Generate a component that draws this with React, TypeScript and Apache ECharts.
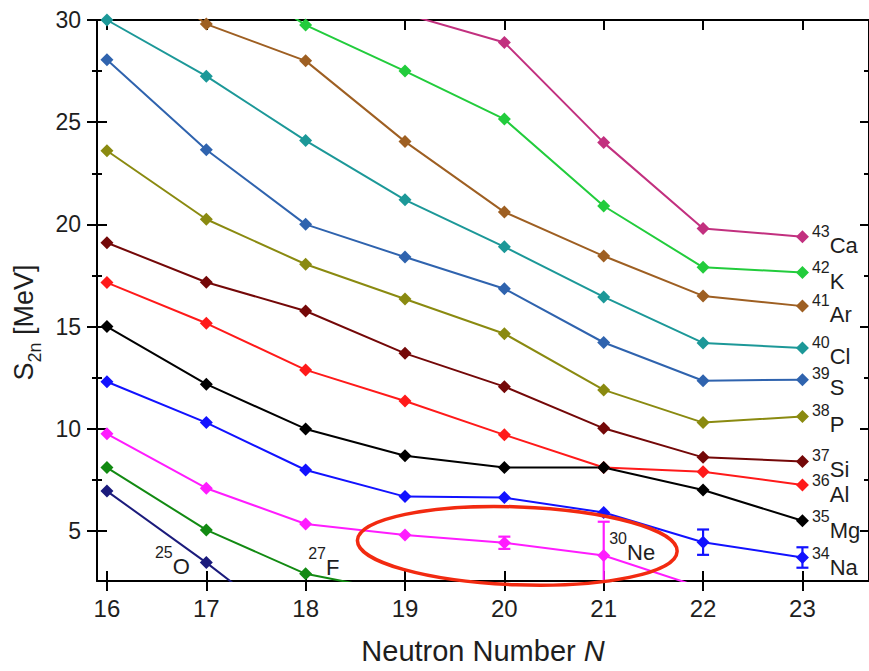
import React, { useEffect, useRef } from "react";
import * as echarts from "echarts";

// Neutron numbers
const N = [16, 17, 18, 19, 20, 21, 22, 23];
const yMajor = [5, 10, 15, 20, 25, 30];
const yMinor = [7.5, 12.5, 17.5, 22.5, 27.5];

// S2n values [MeV] by isotopic chain, index 0 = N 16
const ca = [36.5, 34.5, 32.5, 30.3, 28.9, 24.0, 19.8, 19.4];
const k = [35.5, 32.9, 29.75, 27.5, 25.15, 20.9, 17.9, 17.65];
const ar = [33.5, 29.8, 28.0, 24.05, 20.6, 18.45, 16.5, 16.0];
const cl = [30.0, 27.25, 24.1, 21.2, 18.9, 16.45, 14.2, 13.95];
const s = [28.05, 23.65, 20.0, 18.4, 16.85, 14.22, 12.35, 12.4];
const p = [23.6, 20.25, 18.05, 16.35, 14.65, 11.9, 10.3, 10.6];
const si = [19.1, 17.17, 15.76, 13.69, 12.06, 10.02, 8.6, 8.4];
const al = [17.15, 15.16, 12.88, 11.36, 9.7, 8.1, 7.9, 7.25];
const mg = [15.0, 12.18, 9.99, 8.68, 8.1, 8.1, 7.0, 5.5];
const na = [12.3, 10.3, 7.98, 6.68, 6.63, 5.9, 4.45, 3.7];
const ne = [9.75, 7.09, 5.34, 4.8, 4.42, 3.8, 2.2];
const f = [8.1, 5.05, 2.9, 1.95];
const o = [6.95, 3.45, -0.3];

// error bars
const naErrN = [22, 23];
const naErr = [0.62, 0.5];
const neErrN = [20, 21];
const neErr = [0.3, 1.65];

const X_MIN = 15.9;
const X_MAX = 23.67;
const Y_MIN = 2.55;
const Y_MAX = 30;

const FONT = "'Liberation Sans', Arial, sans-serif";
const TXT = "#1e1e1e";

type Chain = {
  name: string;
  mass: string;
  el: string;
  values: number[];
  color: string;
  labelIdx: number;
  pos: string;
  offset: number[];
  distance: number;
};

const chains: Chain[] = [
  { name: "Ca", mass: "43", el: "Ca", values: ca, color: "#C2307F", labelIdx: 7, pos: "right", offset: [0, 3.5], distance: 3 },
  { name: "K", mass: "42", el: "K", values: k, color: "#22CC3C", labelIdx: 7, pos: "right", offset: [0, 4], distance: 3 },
  { name: "Ar", mass: "41", el: "Ar", values: ar, color: "#9E5F22", labelIdx: 7, pos: "right", offset: [0, 3], distance: 3 },
  { name: "Cl", mass: "40", el: "Cl", values: cl, color: "#1C9898", labelIdx: 7, pos: "right", offset: [0, 2.5], distance: 3 },
  { name: "S", mass: "39", el: "S", values: s, color: "#2F63AE", labelIdx: 7, pos: "right", offset: [0, 2.5], distance: 3 },
  { name: "P", mass: "38", el: "P", values: p, color: "#8A8A10", labelIdx: 7, pos: "right", offset: [0, 3], distance: 3 },
  { name: "Si", mass: "37", el: "Si", values: si, color: "#740808", labelIdx: 7, pos: "right", offset: [0, 3], distance: 3 },
  { name: "Al", mass: "36", el: "Al", values: al, color: "#FF1A1A", labelIdx: 7, pos: "right", offset: [0, 4], distance: 3 },
  { name: "Mg", mass: "35", el: "Mg", values: mg, color: "#000000", labelIdx: 7, pos: "right", offset: [0, 4.5], distance: 3 },
  { name: "Na", mass: "34", el: "Na", values: na, color: "#1212FF", labelIdx: 7, pos: "right", offset: [0, 5], distance: 3 },
  { name: "Ne", mass: "30", el: "Ne", values: ne, color: "#FF1CFF", labelIdx: 5, pos: "right", offset: [0, -8], distance: -1 },
  { name: "F", mass: "27", el: "F", values: f, color: "#128A12", labelIdx: 2, pos: "right", offset: [-4, -12], distance: 0 },
  { name: "O", mass: "25", el: "O", values: o, color: "#1B1B7C", labelIdx: 1, pos: "left", offset: [0, -2], distance: 10 },
];

const labelRich = {
  z: { fontSize: 1, lineHeight: 33, width: 0 },
  s: { fontSize: 16, lineHeight: 16, verticalAlign: "top", fontFamily: FONT, color: TXT },
  e: { fontSize: 22, lineHeight: 24, verticalAlign: "bottom", fontFamily: FONT, color: TXT },
};

export default function App() {
  const ref = useRef<HTMLDivElement>(null);

  useEffect(() => {
    if (!ref.current) return;
    const chart = echarts.init(ref.current, undefined, { renderer: "svg" });

    const lineSeries = chains.map((c) => ({
      type: "line",
      name: c.name,
      xAxisIndex: 0,
      yAxisIndex: 0,
      data: c.values.map((v, i) => [N[i], v]),
      symbol: "diamond",
      symbolSize: 13,
      showAllSymbol: true,
      clip: true,
      color: c.color,
      itemStyle: { color: c.color },
      lineStyle: { color: c.color, width: 2 },
      label: {
        show: true,
        position: c.pos,
        distance: c.distance,
        offset: c.offset,
        formatter: (prm: any) =>
          prm.dataIndex === c.labelIdx ? `{z| }{s|${c.mass}}{e|${c.el}}` : "",
        rich: labelRich,
      },
      emphasis: { disabled: true },
      z: 3,
    }));

    const errRender = (color: string) => (params: any, api: any) => {
      const x = api.value(0);
      const y = api.value(1);
      const e = api.value(2);
      const loV = y - e;
      const clipped = loV < Y_MIN;
      const top = api.coord([x, y + e]);
      const bot = api.coord([x, clipped ? Y_MIN : loV]);
      const hw = 6;
      const st = { stroke: color, lineWidth: 2.2 };
      const children: any[] = [
        { type: "line", shape: { x1: top[0], y1: top[1], x2: bot[0], y2: bot[1] }, style: st },
        { type: "line", shape: { x1: top[0] - hw, y1: top[1], x2: top[0] + hw, y2: top[1] }, style: st },
      ];
      if (!clipped) {
        children.push({ type: "line", shape: { x1: bot[0] - hw, y1: bot[1], x2: bot[0] + hw, y2: bot[1] }, style: st });
      }
      return { type: "group", children };
    };

    const naErrData = naErrN.map((n, i) => [n, na[N.indexOf(n)], naErr[i]]);
    const neErrData = neErrN.map((n, i) => [n, ne[N.indexOf(n)], neErr[i]]);

    const errSeries = [
      {
        type: "custom",
        xAxisIndex: 0,
        yAxisIndex: 0,
        data: naErrData,
        encode: { x: 0, y: 1 },
        renderItem: errRender("#1212FF"),
        z: 4,
      },
      {
        type: "custom",
        xAxisIndex: 0,
        yAxisIndex: 0,
        data: neErrData,
        encode: { x: 0, y: 1 },
        renderItem: errRender("#FF1CFF"),
        z: 4,
      },
    ];

    const axLine = { show: true, lineStyle: { color: "#000", width: 2 } };
    const tickStyle = { color: "#000", width: 2 };

    const xBase = {
      type: "value",
      min: X_MIN,
      max: X_MAX,
      splitLine: { show: false },
      axisLine: axLine,
    };
    const yBase = {
      type: "value",
      min: Y_MIN,
      max: Y_MAX,
      splitLine: { show: false },
      axisLine: axLine,
    };

    const option: any = {
      animation: false,
      backgroundColor: "#ffffff",
      grid: { left: 97, top: 20, width: 773, height: 561, containLabel: false },
      xAxis: [
        {
          ...xBase,
          position: "bottom",
          axisTick: { show: true, inside: false, length: 10, customValues: N, lineStyle: tickStyle },
          axisLabel: { show: true, customValues: N, fontSize: 24, margin: 15, color: TXT, fontFamily: FONT },
          name: "{t|Neutron Number }{i|N}",
          nameLocation: "middle",
          nameGap: 55,
          nameTextStyle: {
            rich: {
              t: { fontSize: 29, fontFamily: FONT, color: TXT },
              i: { fontSize: 29, fontFamily: FONT, color: TXT, fontStyle: "italic" },
            },
          },
        },
        {
          ...xBase,
          position: "bottom",
          axisLine: { show: false },
          axisTick: { show: true, inside: true, length: 10, customValues: N, lineStyle: tickStyle },
          axisLabel: { show: false },
        },
        {
          ...xBase,
          position: "top",
          axisTick: { show: true, inside: true, length: 10, customValues: N, lineStyle: tickStyle },
          axisLabel: { show: false },
        },
      ],
      yAxis: [
        {
          ...yBase,
          position: "left",
          axisTick: { show: true, inside: false, length: 10, customValues: yMajor, lineStyle: tickStyle },
          axisLabel: { show: true, customValues: yMajor, fontSize: 23, margin: 16, color: TXT, fontFamily: FONT },
          name: "{z| }{m|S}{b|2n}{m| [MeV]}",
          nameLocation: "middle",
          nameRotate: 90,
          nameGap: 53,
          nameTextStyle: {
            padding: [0, 44, 0, 0],
            rich: {
              z: { fontSize: 1, lineHeight: 34, width: 0 },
              m: { fontSize: 27, lineHeight: 27, verticalAlign: "top", fontFamily: FONT, color: TXT },
              b: { fontSize: 18, lineHeight: 18, verticalAlign: "bottom", fontFamily: FONT, color: TXT },
            },
          },
        },
        {
          ...yBase,
          position: "left",
          axisLine: { show: false },
          axisTick: { show: true, inside: true, length: 10, customValues: yMajor, lineStyle: tickStyle },
          axisLabel: { show: false },
        },
        {
          ...yBase,
          position: "left",
          axisLine: { show: false },
          axisTick: { show: true, inside: false, length: 5, customValues: yMinor, lineStyle: tickStyle },
          axisLabel: { show: false },
        },
        {
          ...yBase,
          position: "left",
          axisLine: { show: false },
          axisTick: { show: true, inside: true, length: 5, customValues: yMinor, lineStyle: tickStyle },
          axisLabel: { show: false },
        },
        {
          ...yBase,
          position: "right",
          axisTick: { show: true, inside: true, length: 9, customValues: yMajor, lineStyle: tickStyle },
          axisLabel: { show: false },
        },
        {
          ...yBase,
          position: "right",
          axisLine: { show: false },
          axisTick: { show: true, inside: true, length: 5, customValues: yMinor, lineStyle: tickStyle },
          axisLabel: { show: false },
        },
      ],
      series: [...lineSeries, ...errSeries],
    };

    chart.setOption(option);

    const c = chart.convertToPixel({ xAxisIndex: 0, yAxisIndex: 0 }, [20.13, 4.27]) as number[];
    chart.setOption({
      graphic: [
        {
          type: "ellipse",
          x: c[0],
          y: c[1],
          rotation: -0.035,
          shape: { cx: 0, cy: 0, rx: 160, ry: 39 },
          style: { fill: "none", stroke: "#F22A10", lineWidth: 3.5 },
          z: 100,
        },
      ],
    });

    return () => chart.dispose();
  }, []);

  return (
    <div
      ref={ref}
      style={{ position: "absolute", left: 0, top: 0, width: 869, height: 671, background: "#fff" }}
    />
  );
}
